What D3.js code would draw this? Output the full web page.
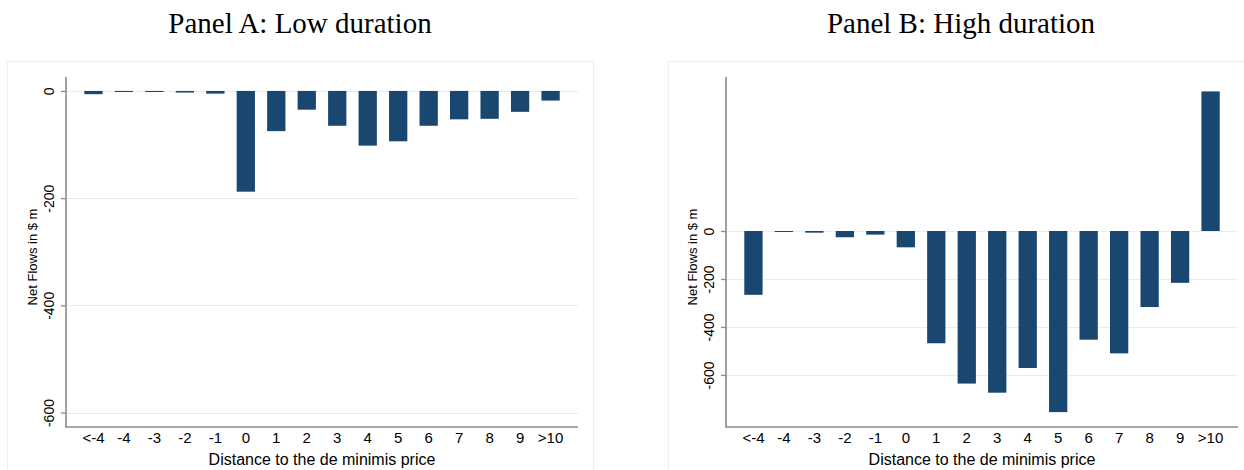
<!DOCTYPE html>
<html>
<head>
<meta charset="utf-8">
<script src="https://cdn.jsdelivr.net/npm/d3@7"></script>
<style>
  html, body { margin: 0; padding: 0; background: #fff; }
  svg { display: block; }
</style>
</head>
<body>
<svg id="chart" width="1244" height="470"></svg>
<script>
// Distance buckets to the de minimis price
const categories = ["<-4", "-4", "-3", "-2", "-1", "0", "1", "2", "3", "4", "5", "6", "7", "8", "9", ">10"];

// Net flows ($ m) per bucket
const lowDuration  = [-6, -2, -2, -3, -5, -188, -75, -35, -65, -102, -94, -65, -53, -52, -39, -18];
const highDuration = [-266, -3, -7, -26, -15, -68, -468, -636, -674, -571, -755, -453, -510, -317, -216, 582];

const yTickValues = [0, -200, -400, -600];

const panelTitles = ["Panel A: Low duration", "Panel B: High duration"];
const xAxisTitle = "Distance to the de minimis price";
const yAxisTitle = "Net Flows in $ m";

const svg = d3.select("#chart");

const barColor = "#1a476f";
const gridColor = "#e6eef1";
const axisColor = "#8a8a8a";
const sans = "'Liberation Sans', Arial, Helvetica, sans-serif";
const serif = "'Liberation Serif', 'Times New Roman', serif";

const panels = [
  { title: panelTitles[0], values: lowDuration,  frame: [7, 593],   plotX: [66, 578],   yDomain: [-627, 26] },
  { title: panelTitles[1], values: highDuration, frame: [668, 1254], plotX: [726, 1238], yDomain: [-817, 642] }
];

const plotTop = 77, plotBottom = 427;

// plain hyphen-minus labels
const fmt = d => String(d);

panels.forEach(p => {
  const g = svg.append("g");

  // faint panel frame
  g.append("rect")
    .attr("x", p.frame[0] + 0.5).attr("y", 61.5)
    .attr("width", p.frame[1] - p.frame[0]).attr("height", 430)
    .attr("fill", "none").attr("stroke", "#eeeeee").attr("stroke-width", 1);

  // title
  g.append("text")
    .attr("x", (p.frame[0] + p.frame[1]) / 2).attr("y", 33)
    .attr("text-anchor", "middle")
    .style("font-family", serif).style("font-size", "29px").attr("fill", "#000")
    .text(p.title);

  const x = d3.scaleBand()
    .domain(categories)
    .range(p.plotX)
    .paddingInner(0.4)
    .paddingOuter(0.6);

  const y = d3.scaleLinear()
    .domain(p.yDomain)
    .range([plotBottom, plotTop]);

  // horizontal grid lines
  g.append("g").selectAll("line")
    .data(yTickValues)
    .join("line")
    .attr("x1", p.plotX[0]).attr("x2", p.plotX[1])
    .attr("y1", d => Math.round(y(d)) + 0.5).attr("y2", d => Math.round(y(d)) + 0.5)
    .attr("stroke", gridColor).attr("stroke-width", 1.2);

  // bars
  const data = categories.map((c, i) => ({ cat: c, v: p.values[i] }));
  g.append("g").selectAll("rect")
    .data(data)
    .join("rect")
    .attr("x", d => x(d.cat))
    .attr("width", x.bandwidth())
    .attr("y", d => Math.min(y(0), y(d.v)))
    .attr("height", d => Math.max(1, Math.abs(y(d.v) - y(0))))
    .attr("fill", barColor);

  // y axis
  const yAxis = g.append("g")
    .attr("transform", `translate(${p.plotX[0]},0)`)
    .call(d3.axisLeft(y).tickValues(yTickValues).tickSize(5).tickSizeOuter(0).tickFormat(fmt));
  yAxis.select(".domain").remove();
  yAxis.selectAll(".tick line").attr("stroke", axisColor).attr("stroke-width", 1.3);
  yAxis.selectAll(".tick text")
    .attr("x", null).attr("dy", null)
    .attr("text-anchor", "middle")
    .attr("transform", "translate(-12,0) rotate(-90)")
    .style("font-family", sans).style("font-size", "14px").attr("fill", "#000");

  g.append("line")
    .attr("x1", p.plotX[0]).attr("x2", p.plotX[0])
    .attr("y1", plotTop).attr("y2", plotBottom)
    .attr("stroke", axisColor).attr("stroke-width", 1.6);

  // x axis
  const xAxis = g.append("g")
    .attr("transform", `translate(0,${plotBottom})`)
    .call(d3.axisBottom(x).tickSize(0).tickSizeOuter(0));
  xAxis.select(".domain").remove();
  xAxis.selectAll(".tick text")
    .attr("y", 16).attr("dy", null)
    .style("font-family", sans).style("font-size", "15px").attr("fill", "#000");

  g.append("line")
    .attr("x1", p.plotX[0] - 0.8).attr("x2", p.plotX[1])
    .attr("y1", plotBottom).attr("y2", plotBottom)
    .attr("stroke", axisColor).attr("stroke-width", 1.6);

  // axis titles
  g.append("text")
    .attr("x", (p.plotX[0] + p.plotX[1]) / 2).attr("y", 465)
    .attr("text-anchor", "middle")
    .style("font-family", sans).style("font-size", "16px").attr("fill", "#000")
    .text(xAxisTitle);

  g.append("text")
    .attr("transform", `translate(${p.plotX[0] - 29},257) rotate(-90)`)
    .attr("text-anchor", "middle")
    .style("font-family", sans).style("font-size", "13px").attr("fill", "#000")
    .text(yAxisTitle);
});
</script>
</body>
</html>
